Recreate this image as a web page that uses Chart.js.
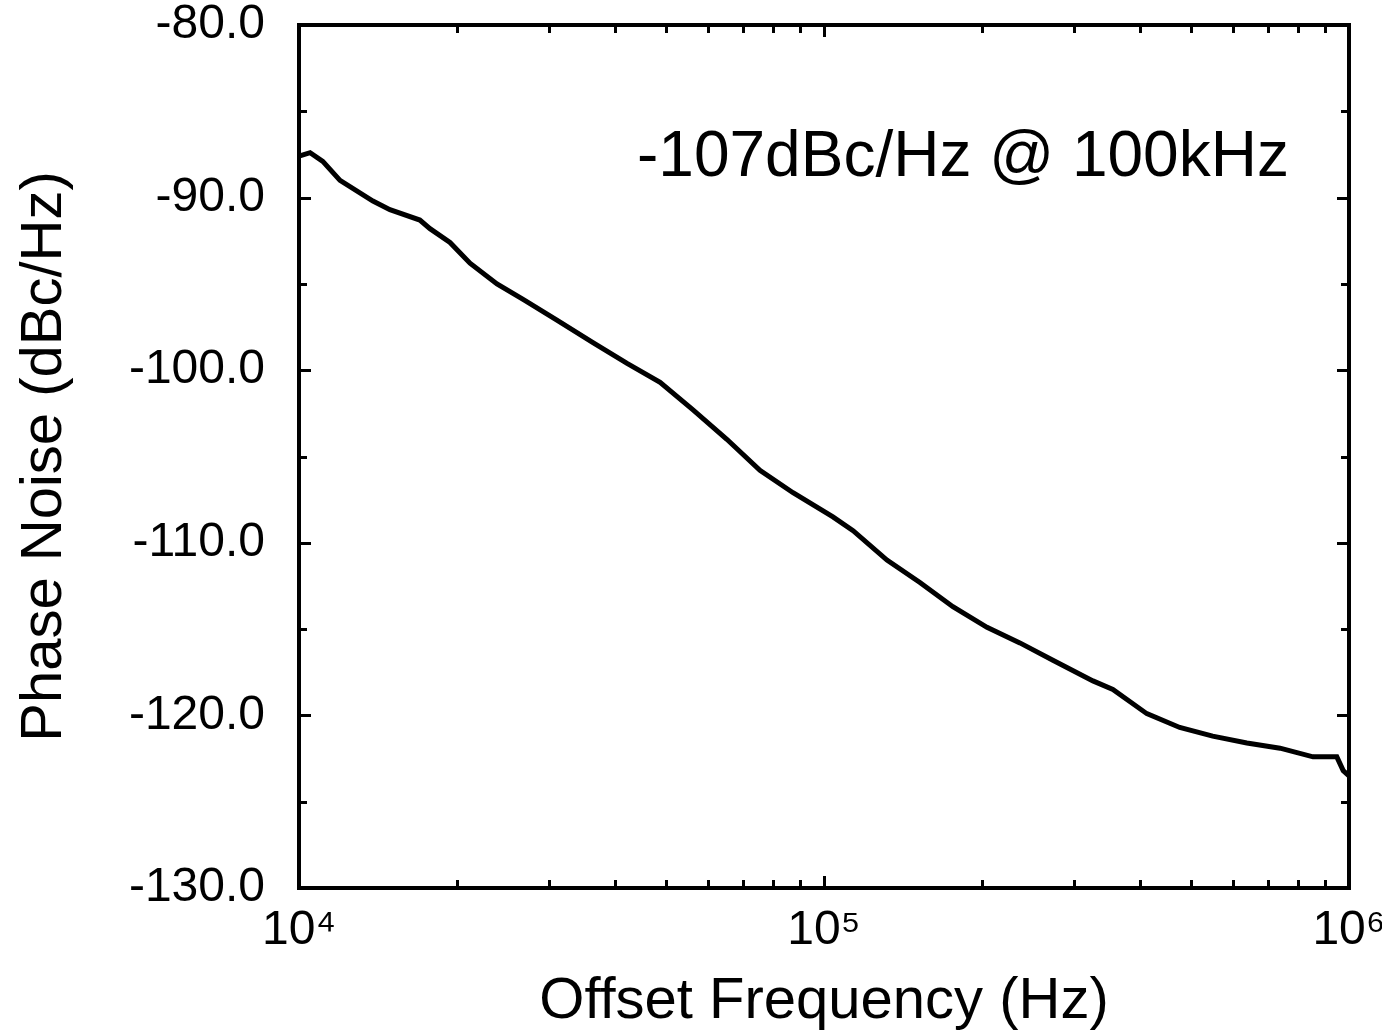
<!DOCTYPE html>
<html>
<head>
<meta charset="utf-8">
<script src="https://cdn.jsdelivr.net/npm/chart.js@4"></script>
<style>
  html, body { margin: 0; padding: 0; background: #fff; }
  canvas { display: block; }
</style>
</head>
<body>
<canvas id="pnChart" width="1382" height="1034"></canvas>
<script>
const offsetFreq = [10000, 10500, 11100, 11970, 13830, 14900, 16990, 17760, 19390, 21170,
  23830, 26720, 30990, 36300, 42160, 48730, 56300, 65300, 75500, 87300,
  104000, 113600, 131800, 152300, 176000, 204400, 236100, 272900, 325300, 355000,
  412000, 476000, 550000, 639000, 739000, 854000, 948000, 975000, 1000000];
const phaseNoise = [-87.6, -87.4, -87.9, -89.0, -90.2, -90.7, -91.3, -91.8, -92.6, -93.8,
  -95.0, -95.9, -97.1, -98.4, -99.6, -100.7, -102.3, -104.0, -105.8, -107.1,
  -108.5, -109.3, -111.0, -112.3, -113.7, -114.9, -115.8, -116.8, -118.0, -118.5,
  -119.9, -120.7, -121.2, -121.6, -121.9, -122.4, -122.4, -123.2, -123.5];

const xTickValues = [1e4, 1e5, 1e6];
const xTickLabels = ['10\u2074', '10\u2075', '10\u2076'];
const xMinorTicks = [2e4, 3e4, 4e4, 5e4, 6e4, 7e4, 8e4, 9e4, 2e5, 3e5, 4e5, 5e5, 6e5, 7e5, 8e5, 9e5];
const yTickValues = [-130, -120, -110, -100, -90, -80];
const yMinorTicks = [-125, -115, -105, -95, -85];
const annotationText = '-107dBc/Hz @ 100kHz';

const FONT = "'Liberation Sans', Arial, Helvetica, sans-serif";

// keep label overhang from pushing the plot area around
const noPad = s => { s.paddingTop = 0; s.paddingBottom = 0; s.paddingLeft = 0; s.paddingRight = 0; };

// frame, inward tick marks and the annotation
const frameTicks = {
  id: 'frameTicks',
  afterDraw(chart) {
    const { ctx, chartArea: { left, right, top, bottom } } = chart;
    const xs = chart.scales.x, ys = chart.scales.y;
    ctx.save();
    ctx.strokeStyle = '#000';
    ctx.lineWidth = 3;
    ctx.beginPath();
    const tick = (len, vals, scale, horiz) => {
      vals.forEach(v => {
        const p = Math.round(scale.getPixelForValue(v)) + 0.5;
        if (horiz) {
          ctx.moveTo(p, bottom); ctx.lineTo(p, bottom - len);
          ctx.moveTo(p, top); ctx.lineTo(p, top + len);
        } else {
          ctx.moveTo(left, p); ctx.lineTo(left + len, p);
          ctx.moveTo(right, p); ctx.lineTo(right - len, p);
        }
      });
    };
    tick(12, xTickValues, xs, true);
    tick(8, xMinorTicks, xs, true);
    tick(12, yTickValues, ys, false);
    tick(8, yMinorTicks, ys, false);
    ctx.stroke();

    ctx.lineWidth = 4;
    ctx.strokeRect(left, top, right - left, bottom - top);

    ctx.fillStyle = '#000';
    ctx.font = '64px ' + FONT;
    ctx.textAlign = 'left';
    ctx.textBaseline = 'alphabetic';
    ctx.fillText(annotationText, left + 338, top + 151);
    ctx.restore();
  }
};

new Chart(document.getElementById('pnChart'), {
  type: 'line',
  data: {
    datasets: [{
      data: offsetFreq.map((f, i) => ({ x: f, y: phaseNoise[i] })),
      borderColor: '#000',
      borderWidth: 5,
      pointRadius: 0,
      tension: 0,
      fill: false
    }]
  },
  options: {
    responsive: false,
    animation: false,
    devicePixelRatio: 1,
    layout: { padding: { top: 25, right: 33, left: 0, bottom: 0 } },
    plugins: { legend: { display: false }, tooltip: { enabled: false } },
    scales: {
      x: {
        type: 'logarithmic',
        min: 1e4,
        max: 1e6,
        grid: { display: false },
        border: { display: false },
        afterBuildTicks: s => { s.ticks = xTickValues.map(v => ({ value: v })); },
        afterFit: s => { s.height = 146; noPad(s); },
        ticks: {
          autoSkip: false,
          maxRotation: 0,
          color: '#000',
          padding: 6,
          font: { family: FONT, size: 48 },
          callback: v => xTickLabels[xTickValues.indexOf(v)]
        },
        title: {
          display: true,
          text: 'Offset Frequency (Hz)',
          color: '#000',
          font: { family: FONT, size: 58, lineHeight: 1.1 },
          padding: { top: 0, bottom: 0 }
        }
      },
      y: {
        min: -130,
        max: -80,
        grid: { display: false },
        border: { display: false },
        afterBuildTicks: s => { s.ticks = yTickValues.map(v => ({ value: v })); },
        afterFit: s => { s.width = 299; noPad(s); },
        ticks: {
          autoSkip: false,
          color: '#000',
          padding: 26,
          font: { family: FONT, size: 48 },
          callback: v => v.toFixed(1)
        },
        title: {
          display: true,
          text: 'Phase Noise (dBc/Hz)',
          color: '#000',
          font: { family: FONT, size: 58, lineHeight: 1.2 },
          padding: { top: 10, bottom: 0 }
        }
      }
    }
  },
  plugins: [frameTicks]
});
</script>
</body>
</html>
